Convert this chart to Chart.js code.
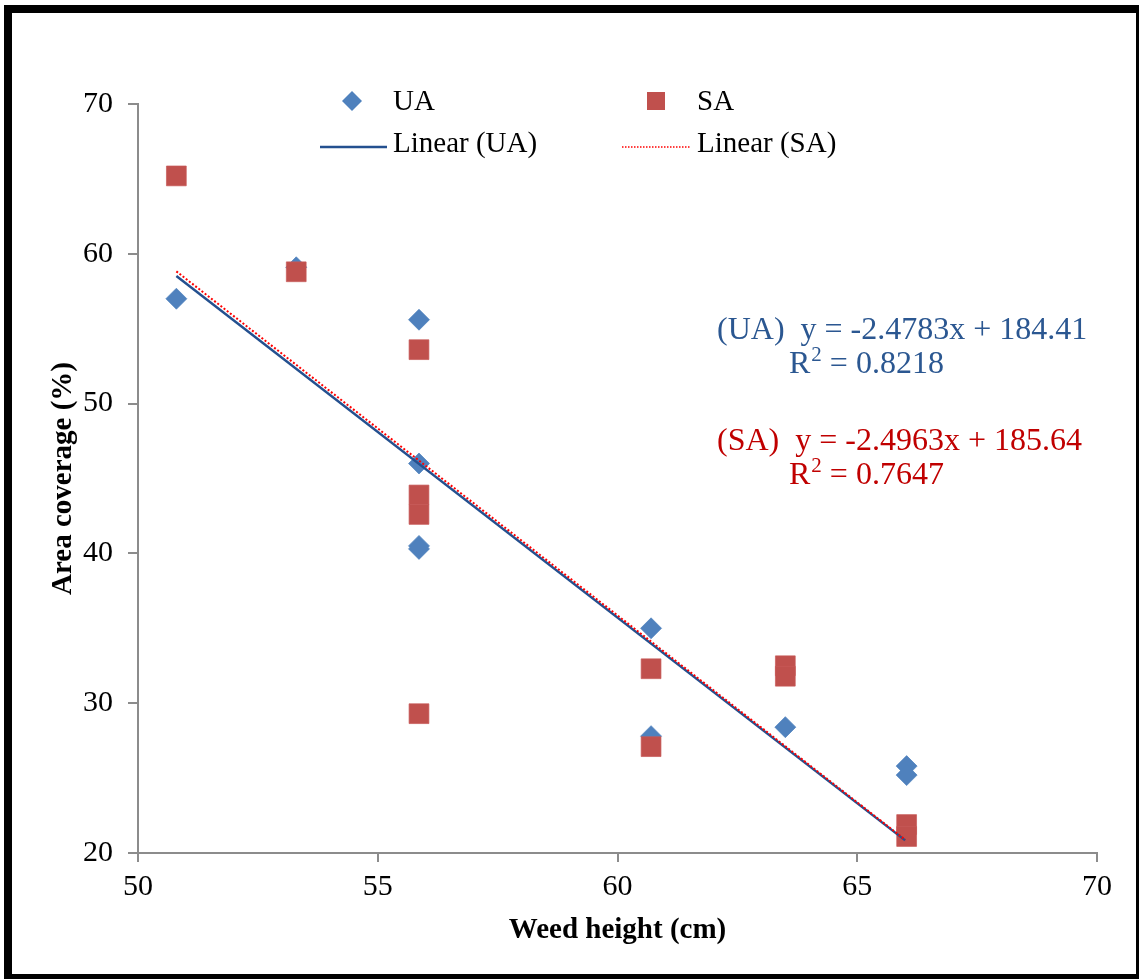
<!DOCTYPE html>
<html><head><meta charset="utf-8">
<script src="https://cdn.jsdelivr.net/npm/chart.js@4.4.0/dist/chart.umd.min.js"></script>
<style>
html,body{margin:0;padding:0;background:#fff;}
#wrap{position:relative;width:1139px;height:979px;overflow:hidden;background:#fff;}
#frame{position:absolute;left:4px;top:5px;width:1124px;height:961px;border:8px solid #000;pointer-events:none;}
canvas{position:absolute;left:0;top:0;}
</style></head><body>
<div id="wrap"><canvas id="c" width="1139" height="979"></canvas><div id="frame"></div></div>
<script>
// ---- data ----
const seriesNames = ['UA', 'SA'];
const trendNames = ['Linear (UA)', 'Linear (SA)'];
const xUA = [50.8, 53.3, 55.86, 55.86, 55.86, 55.86, 60.7, 60.7, 63.5, 66.03, 66.03];
const yUA = [57.0, 59.1, 55.6, 46.0, 40.5, 40.3, 35.0, 27.8, 28.4, 25.8, 25.2];
const xSA = [50.8, 53.3, 55.86, 55.86, 55.86, 55.86, 60.7, 60.7, 63.5, 63.5, 66.03, 66.03];
const ySA = [65.2, 58.8, 53.6, 43.9, 42.6, 29.3, 32.3, 27.1, 32.5, 31.8, 21.9, 21.1];
const trendSlope = [-2.4783, -2.4963];
const trendIntercept = [184.41, 185.64];
const trendXRange = [50.8, 66.0];
const rSquared = ['0.8218', '0.7647'];
const xTicks = [50, 55, 60, 65, 70];
const yTicks = [20, 30, 40, 50, 60, 70];
const xTitle = 'Weed height (cm)';
const yTitle = 'Area coverage (%)';

const SERIF = "'Liberation Serif','Times New Roman',serif";
const toPts = (xs, ys) => xs.map((x, i) => ({x: x, y: ys[i]}));
const trendPts = k => trendXRange.map(x => ({x: x, y: trendSlope[k] * x + trendIntercept[k]}));
const fmt = v => (v < 0 ? '-' : '') + Math.abs(v);

const colUA = '#4F81BD', colSA = '#C0504D', lineUA = '#24508F', lineSA = '#FF0000';
const txtUA = '#2B5791', txtSA = '#C00000';

const overlay = {
  id: 'overlay',
  afterDraw(chart) {
    const ctx = chart.ctx;
    ctx.save();
    // legend
    ctx.font = '29px ' + SERIF;
    ctx.fillStyle = '#000';
    ctx.textBaseline = 'middle';
    ctx.textAlign = 'left';
    const r1 = 101, r2 = 144;
    // UA diamond
    ctx.fillStyle = colUA;
    ctx.beginPath();
    ctx.moveTo(352, r1 - 10); ctx.lineTo(362, r1); ctx.lineTo(352, r1 + 10); ctx.lineTo(342, r1); ctx.closePath(); ctx.fill();
    // SA square
    ctx.fillStyle = colSA;
    ctx.fillRect(647, r1 - 9, 18, 18);
    ctx.fillStyle = '#000';
    ctx.fillText(seriesNames[0], 393, r1 + 1);
    ctx.fillText(seriesNames[1], 697, r1 + 1);
    // trend legend
    ctx.strokeStyle = lineUA; ctx.lineWidth = 2.5;
    ctx.beginPath(); ctx.moveTo(320, r2 + 3); ctx.lineTo(387, r2 + 3); ctx.stroke();
    ctx.strokeStyle = lineSA; ctx.lineWidth = 1.5; ctx.setLineDash([1.5, 1.5]);
    ctx.beginPath(); ctx.moveTo(622, r2 + 3); ctx.lineTo(690, r2 + 3); ctx.stroke();
    ctx.setLineDash([]);
    ctx.fillText(trendNames[0], 393, r2);
    ctx.fillText(trendNames[1], 697, r2);

    // equations
    const eq = (k, color, x, yb, x2, yb2) => {
      ctx.fillStyle = color;
      ctx.textBaseline = 'alphabetic';
      ctx.font = '32px ' + SERIF;
      ctx.fillText('(' + seriesNames[k] + ')  y = ' + fmt(trendSlope[k]) + 'x + ' + trendIntercept[k], x, yb);
      ctx.fillText('R', x2, yb2);
      const wR = ctx.measureText('R').width;
      ctx.font = '21px ' + SERIF;
      ctx.fillText('2', x2 + wR + 1, yb2 - 12);
      const w2 = ctx.measureText('2').width;
      ctx.font = '32px ' + SERIF;
      ctx.fillText(' = ' + rSquared[k], x2 + wR + 1 + w2, yb2);
    };
    eq(0, txtUA, 717, 339, 789, 373);
    eq(1, txtSA, 717, 450, 789, 484);
    ctx.restore();
  }
};

const axisCommon = (min, max, step, ticksArr, title, titlePad, tickLen, tickPad) => ({
  type: 'linear', min: min, max: max,
  afterBuildTicks: s => { s.ticks = ticksArr.map(v => ({value: v})); },
  ticks: {stepSize: step, color: '#000', font: {family: SERIF, size: 30}, padding: tickPad},
  grid: {display: true, drawOnChartArea: false, drawTicks: true, tickLength: tickLen, color: '#8C8C8C', lineWidth: 2},
  border: {display: true, color: '#8C8C8C', width: 2},
  title: {display: true, text: title, color: '#000', font: {family: SERIF, size: 29, weight: 'bold'}, padding: titlePad}
});

const xAxis = axisCommon(50, 70, 5, xTicks, xTitle, {top: 0, bottom: 31}, 9, 7);
xAxis.afterFit = s => { s.height = 126; };
const yAxis = axisCommon(20, 70, 10, yTicks, yTitle, {top: 46, bottom: 0}, 10, 15);
yAxis.afterFit = s => { s.width = 138; };

new Chart(document.getElementById('c'), {
  type: 'scatter',
  data: {
    datasets: [
      {label: trendNames[1], type: 'line', data: trendPts(1), borderColor: lineSA, borderWidth: 2, borderDash: [2, 2], pointRadius: 0, fill: false, order: 1},
      {label: trendNames[0], type: 'line', data: trendPts(0), borderColor: lineUA, borderWidth: 2.5, pointRadius: 0, fill: false, order: 2},
      {label: seriesNames[1], data: toPts(xSA, ySA), pointStyle: 'rect', pointRadius: 14, pointHoverRadius: 14, backgroundColor: colSA, borderColor: 'rgba(200,90,88,0.7)', borderWidth: 1, order: 3},
      {label: seriesNames[0], data: toPts(xUA, yUA), pointStyle: 'rectRot', pointRadius: 10.5, pointHoverRadius: 10.5, backgroundColor: colUA, borderColor: 'rgba(79,129,189,0.7)', borderWidth: 1, order: 4}
    ]
  },
  options: {
    responsive: false, animation: false, devicePixelRatio: 1,
    layout: {padding: {top: 104, right: 42, bottom: 0, left: 0}},
    plugins: {legend: {display: false}, tooltip: {enabled: false}, title: {display: false}},
    scales: {x: xAxis, y: yAxis}
  },
  plugins: [overlay]
});
</script>
</body></html>
